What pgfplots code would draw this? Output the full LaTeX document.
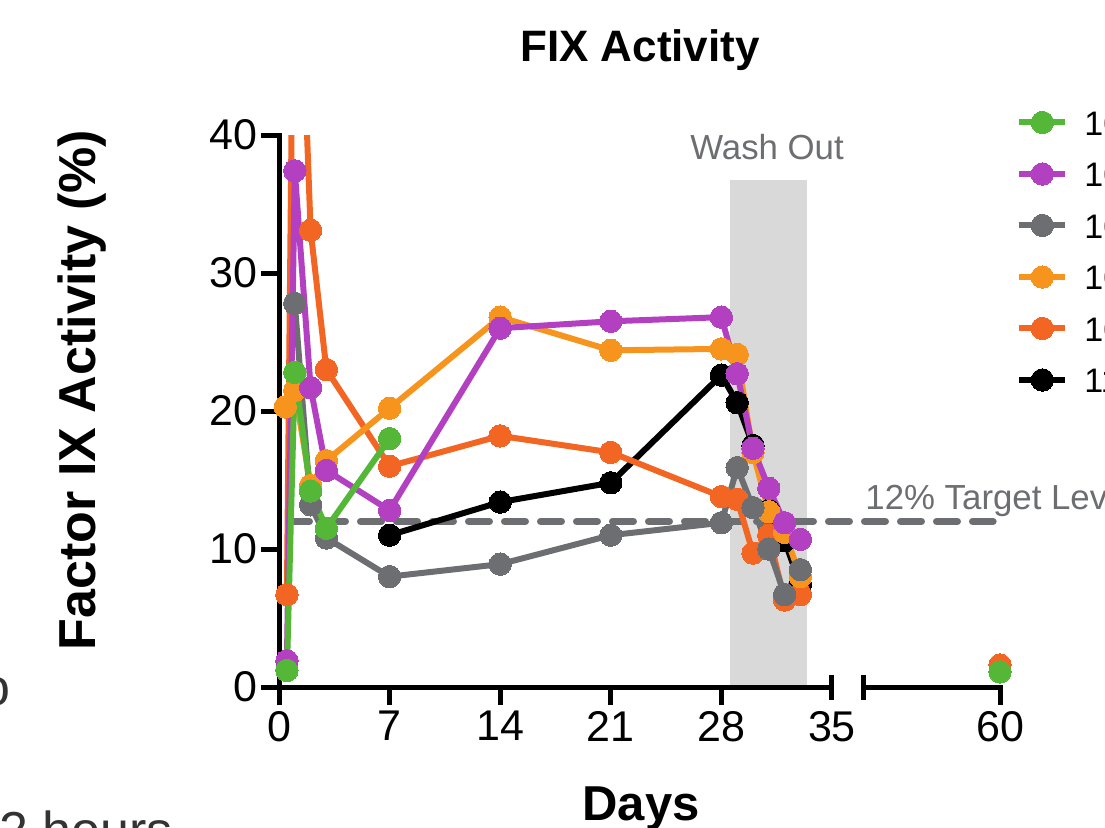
\documentclass[border=0pt]{standalone}
\usepackage{pgfplots}
\pgfplotsset{compat=1.18}
\usepackage{fontspec}
\setmainfont{Liberation Sans}
\definecolor{cgreen}{HTML}{54B738}
\definecolor{cpurple}{HTML}{B340C0}
\definecolor{cgray}{HTML}{6D6E71}
\definecolor{clorange}{HTML}{F7941E}
\definecolor{cdorange}{HTML}{F26522}
\definecolor{washgray}{HTML}{D9D9D9}
\pgfplotsset{
  ser/.style={color=#1, line width=3pt, mark=*, mark size=5.6pt, mark options={solid, fill=#1, draw=#1, line width=0pt}},
  baseax/.style={at={(139.5pt,70pt)}, anchor=south west, scale only axis, width=276.5pt, height=276pt,
     xmin=0, xmax=35, ymin=0, ymax=40},
}
\begin{document}
\begin{tikzpicture}
\clip[use as bounding box] (0,0) rectangle (552.5pt,413.5pt);
% background: wash out, target line
\begin{axis}[baseax, hide axis, clip=false]
\fill[washgray] (axis cs:28.54,0) rectangle (axis cs:33.42,36.74);
\addplot[cgray, line width=3.5pt, dash pattern=on 10.5pt off 7.5pt, line cap=round] coordinates {(0.6,12) (45.2,12)};
\node[anchor=base, text=cgray, font=\fontsize{17.4}{20}\selectfont, inner sep=0pt] at (axis cs:30.89,38.19) {Wash Out};
\node[anchor=base west, text=cgray, font=\fontsize{17.4}{20}\selectfont, inner sep=0pt] at (axis cs:37.09,12.83) {12\% Target Level};
\end{axis}
% main axis
\begin{axis}[baseax,
  axis x line*=bottom, axis y line*=left,
  axis line style={line width=2.5pt, black, line cap=rect},
  tick style={line width=2.5pt, black},
  tick align=outside, major tick length=9pt,
  xtick={0,7,14,21,28}, ytick={0,10,20,30,40},
  extra x ticks={35}, extra x tick labels={35},
  extra x tick style={tick align=center, major tick length=12.5pt, xticklabel style={yshift=-2.75pt}},
  minor tick num=0,
  /pgf/number format/assume math mode=true,
  ticklabel style={font=\fontsize{21.5}{24}\selectfont},
  yticklabel style={inner sep=1.5pt},
  xticklabel style={inner sep=3pt},
  reverse legend,
  legend style={draw=none, fill=none, at={(1.3327,1.047)}, anchor=north west, inner sep=0pt,
     font=\fontsize{17}{20}\selectfont, row sep=12.75pt,
     nodes={inner sep=0pt, text height=13pt, text depth=0pt},
     /tikz/every odd column/.style={column sep=8pt}},
  legend cell align=left,
  legend image code/.code={\draw[mark repeat=2, mark phase=2] plot coordinates {(0pt,0pt) (11.5pt,0pt) (23pt,0pt)};},
]
\addplot[ser=black] coordinates {(7,11.0) (14,13.4) (21,14.8) (28,22.6) (29,20.6) (30,17.5) (31,12.8) (32,10.6) (33,7.4)};
\addlegendentry{11}
\addplot[ser=cdorange] coordinates {(0.5,6.7) (1,64) (2,33.1) (3,23.0) (7,16.0) (14,18.2) (21,17.0) (28,13.8) (29,13.6) (30,9.7) (31,11.0) (32,6.3) (33,6.7)};
\addlegendentry{10}
\addplot[ser=clorange] coordinates {(0.4,20.3) (1,21.5) (2,14.6) (3,16.4) (7,20.2) (14,26.8) (21,24.4) (28,24.5) (29,24.1) (30,17.0) (31,12.7) (32,11.2) (33,8.0)};
\addlegendentry{10}
\addplot[ser=cgray] coordinates {(1,27.8) (2,13.2) (3,10.8) (7,8.0) (14,8.9) (21,11.0) (28,11.9) (29,15.9) (30,13.0) (31,10.0) (32,6.7) (33,8.5)};
\addlegendentry{10}
\addplot[ser=cpurple] coordinates {(0.5,1.9) (1,37.4) (2,21.7) (3,15.7) (7,12.8) (14,26.0) (21,26.5) (28,26.8) (29,22.7) (30,17.3) (31,14.4) (32,11.9) (33,10.7)};
\addlegendentry{10}
\addplot[ser=cgreen] coordinates {(0.5,1.2) (1,22.8) (2,14.2) (3,11.5) (7,18.0)};
\addlegendentry{10}
\end{axis}
% second axis segment (broken x axis)
\begin{axis}[at={(431.5pt,70pt)}, anchor=south west, scale only axis, width=68.5pt, height=276pt,
  xmin=51.33, xmax=60, ymin=0, ymax=40, clip=false,
  axis x line*=bottom, axis y line=none,
  axis line style={line width=2.5pt, black, line cap=rect},
  tick style={line width=2.5pt, black},
  tick align=outside, major tick length=9pt,
  xtick={60}, ytick=\empty,
  extra x ticks={51.33}, extra x tick labels={},
  extra x tick style={tick align=center, major tick length=12.5pt},
  /pgf/number format/assume math mode=true,
  ticklabel style={font=\fontsize{21.5}{24}\selectfont},
  xticklabel style={inner sep=3pt},
]
\addplot[ser=cdorange, only marks] coordinates {(60,1.6)};
\addplot[ser=cgreen, only marks] coordinates {(60,1.1)};
\end{axis}
% titles
\node[anchor=base, font=\bfseries\fontsize{22}{26}\selectfont, inner sep=0pt] at (320pt,382.5pt) {FIX Activity};
\node[anchor=base, font=\bfseries\fontsize{24.5}{28}\selectfont, inner sep=0pt] at (320.5pt,3.5pt) {Days};
\node[anchor=base, rotate=90, font=\bfseries\fontsize{26}{30}\selectfont, inner sep=0pt] at (47.5pt,218.5pt) {Factor IX Activity (\%)};
\node[anchor=base west, text=black!80, font=\fontsize{26}{30}\selectfont, inner sep=0pt] at (-0.5pt,-10.5pt) {2 hours};
\node[anchor=base west, text=black!80, font=\fontsize{26}{30}\selectfont, inner sep=0pt] at (-9.5pt,61pt) {o};
\end{tikzpicture}
\end{document}
